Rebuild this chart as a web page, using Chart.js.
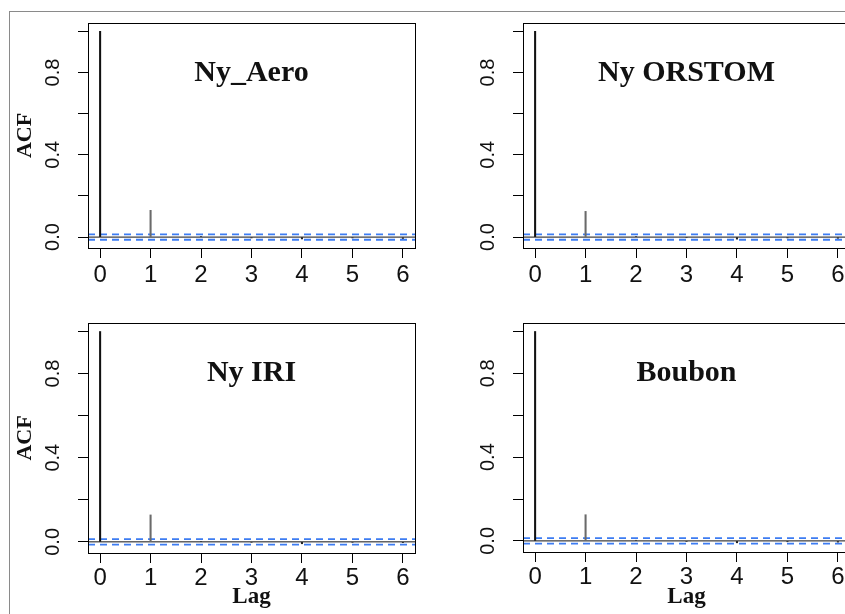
<!DOCTYPE html>
<html>
<head>
<meta charset="utf-8">
<script src="https://cdn.jsdelivr.net/npm/chart.js@4.4.1/dist/chart.umd.min.js"></script>
<style>
    html, body { margin: 0; padding: 0; background: #fff; overflow: hidden; }
    body { width: 845px; height: 614px; position: relative; }
    .frame {
        position: absolute; left: 9px; top: 11px; right: -2px; bottom: -2px;
        border-top: 1px solid #8a8a8a; border-left: 1px solid #8a8a8a;
    }
    .panel { position: absolute; }
    .panel canvas { display: block; }
</style>
</head>
<body>
<div class="frame"></div>
<div class="panel" style="left:0;top:0;"><canvas id="chartNyAero" width="430" height="300"></canvas></div>
<div class="panel" style="left:435px;top:0;"><canvas id="chartNyOrstom" width="430" height="300"></canvas></div>
<div class="panel" style="left:0;top:300px;"><canvas id="chartNyIri" width="430" height="314"></canvas></div>
<div class="panel" style="left:435px;top:300px;"><canvas id="chartBoubon" width="430" height="314"></canvas></div>

<script>
// ===== Data =====
const lags = [0, 1, 2, 3, 4, 5, 6];
const acfNyAero   = [1.0, 0.130, 0.003, -0.004, -0.009, -0.004, -0.007];
const acfNyOrstom = [1.0, 0.125, 0.002, -0.003, -0.010, -0.004, -0.006];
const acfNyIri    = [1.0, 0.128, 0.002, -0.002, -0.009, -0.002, -0.004];
const acfBoubon   = [1.0, 0.125, 0.003, -0.003, -0.009, -0.004, -0.006];
const ciBound = 0.013;

// ===== Axes =====
const xTicks = [0, 1, 2, 3, 4, 5, 6];
const yTicks = [0, 0.2, 0.4, 0.6, 0.8, 1.0];
const yLabelled = ['0.0', '0.4', '0.8'];
const xMin = -0.24, xMax = 6.24;
const yMin = -0.053, yMax = 1.0405;

const spikeColors = ['#111', '#6a6a6a', '#333', '#333', '#222', '#333', '#333'];
const boundColor = '#3d7cf2';

Chart.defaults.font.family = '"Liberation Sans", Arial, sans-serif';
Chart.defaults.color = '#111';

// title inside the plot + full box around the plot region
const panelDecor = {
    id: 'panelDecor',
    afterDatasetsDraw(chart, args, opts) {
        const { ctx, chartArea } = chart;
        ctx.save();
        ctx.font = 'bold 30px "Liberation Serif", "Times New Roman", serif';
        ctx.fillStyle = '#111';
        ctx.textAlign = 'center';
        ctx.textBaseline = 'alphabetic';
        ctx.fillText(opts.text, (chartArea.left + chartArea.right) / 2, chartArea.top + 58);
        ctx.strokeStyle = '#000';
        ctx.lineWidth = 1;
        ctx.strokeRect(chartArea.left + 0.5, chartArea.top + 0.5, chartArea.width, chartArea.height);
        ctx.restore();
    }
};

function makePanel(canvasId, title, acf, opts) {
    const ctx = document.getElementById(canvasId);

    new Chart(ctx, {
        type: 'bar',
        data: {
            datasets: [
                {
                    type: 'bar',
                    data: lags.map((l, i) => ({ x: l, y: acf[i] })),
                    backgroundColor: spikeColors,
                    barThickness: 1.4,
                    borderWidth: 0
                },
                {
                    type: 'line',
                    data: [{ x: xMin, y: 0 }, { x: xMax, y: 0 }],
                    borderColor: '#111',
                    borderWidth: 1,
                    pointRadius: 0
                },
                {
                    type: 'line',
                    data: [{ x: xMin, y: ciBound }, { x: xMax, y: ciBound }],
                    borderColor: boundColor,
                    borderWidth: 1.8,
                    borderDash: [7, 5],
                    pointRadius: 0
                },
                {
                    type: 'line',
                    data: [{ x: xMin, y: -ciBound }, { x: xMax, y: -ciBound }],
                    borderColor: boundColor,
                    borderWidth: 1.8,
                    borderDash: [7, 5],
                    pointRadius: 0
                }
            ]
        },
        options: {
            responsive: false,
            animation: false,
            layout: { padding: { top: opts.top, right: 15, left: 0, bottom: 0 } },
            plugins: {
                legend: { display: false },
                tooltip: { enabled: false },
                panelDecor: { text: title }
            },
            scales: {
                x: {
                    type: 'linear',
                    min: xMin,
                    max: xMax,
                    offset: false,
                    afterBuildTicks: (scale) => { scale.ticks = xTicks.map(v => ({ value: v })); },
                    afterFit: (scale) => { scale.height = opts.xHeight; },
                    grid: { offset: false, drawOnChartArea: false, drawTicks: true, tickLength: 10, color: '#000' },
                    border: { display: true, color: '#000' },
                    ticks: {
                        autoSkip: false,
                        maxRotation: 0,
                        padding: opts.xPad,
                        font: { size: 24 },
                        color: '#111',
                        callback: (v) => String(v)
                    },
                    title: {
                        display: opts.showLag,
                        text: 'Lag',
                        font: { family: '"Liberation Serif", "Times New Roman", serif', size: 23, weight: 'bold' },
                        color: '#111',
                        padding: { top: 0, bottom: 3 }
                    }
                },
                y: {
                    type: 'linear',
                    min: yMin,
                    max: yMax,
                    afterBuildTicks: (scale) => { scale.ticks = yTicks.map(v => ({ value: v })); },
                    afterFit: (scale) => { scale.width = 88; },
                    grid: { drawOnChartArea: false, drawTicks: true, tickLength: 10, color: '#000' },
                    border: { display: true, color: '#000' },
                    ticks: {
                        autoSkip: false,
                        minRotation: 90,
                        maxRotation: 90,
                        crossAlign: 'center',
                        padding: 11,
                        font: { size: 20 },
                        color: '#111',
                        callback: (v) => {
                            const s = Number(v).toFixed(1);
                            return yLabelled.includes(s) ? s : '';
                        }
                    },
                    title: {
                        display: opts.showAcf,
                        text: 'ACF',
                        font: { family: '"Liberation Serif", "Times New Roman", serif', size: 22, weight: 'bold' },
                        color: '#111',
                        padding: { top: 12, bottom: 0 }
                    }
                }
            }
        },
        plugins: [panelDecor]
    });
}

document.addEventListener('DOMContentLoaded', () => {
    makePanel('chartNyAero', 'Ny_Aero', acfNyAero, { top: 15, xHeight: 52, xPad: 3, showAcf: true, showLag: false });
    makePanel('chartNyOrstom', 'Ny ORSTOM', acfNyOrstom, { top: 15, xHeight: 52, xPad: 3, showAcf: false, showLag: false });
    makePanel('chartNyIri', 'Ny IRI', acfNyIri, { top: 19, xHeight: 61, xPad: 1, showAcf: true, showLag: true });
    makePanel('chartBoubon', 'Boubon', acfBoubon, { top: 20, xHeight: 62, xPad: 1, showAcf: false, showLag: true });
});
</script>
</body>
</html>
